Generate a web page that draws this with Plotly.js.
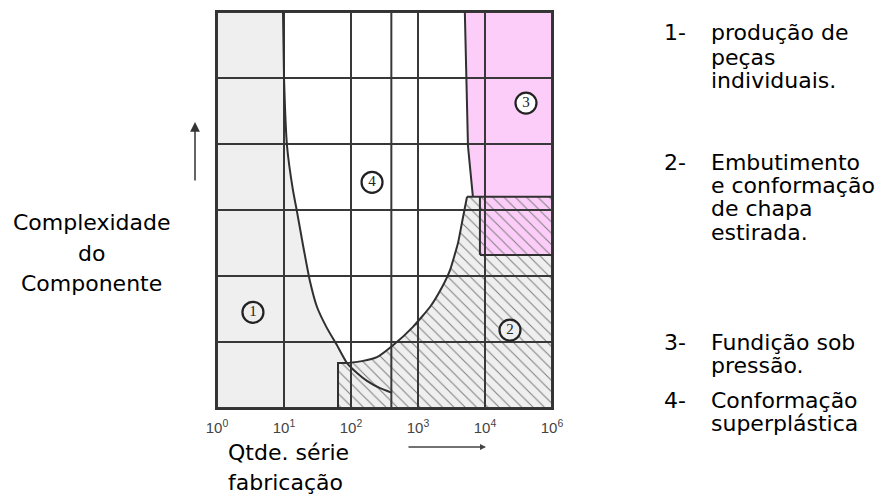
<!DOCTYPE html>
<html>
<head>
<meta charset="utf-8">
<script src="https://cdn.plot.ly/plotly-3.0.1.min.js"></script>
<style>html,body{margin:0;padding:0;background:#fff;}#chart{width:888px;height:497px;}</style>
</head>
<body>
<div id="chart"></div>
<script>
// ---- data (x = production quantity, log scale; y = component complexity) ----
const xTickVals = [1, 10, 100, 1000, 10000, 100000];
const xTickText = ['10<sup>0</sup>', '10<sup>1</sup>', '10<sup>2</sup>', '10<sup>3</sup>', '10<sup>4</sup>', '10<sup>6</sup>'];
const gridX = [1, 10, 100, 400, 1000, 10000, 100000];
const gridY = [0, 1, 2, 3, 4, 5, 6];

// left boundary curve (region 1 / region 4)
const leftCurveX = [9.66, 10, 11.1, 13.6, 15.6, 19.2, 24.4, 31.1, 43.8, 61.8, 87.1, 123, 173, 271, 409];
const leftCurveY = [6, 5.02, 3.97, 3.3, 2.98, 2.47, 1.92, 1.53, 1.21, 0.95, 0.68, 0.53, 0.41, 0.3, 0.23];
const meetIdx = 10;

// right boundary, upper part (region 4 / region 3)
const rightUpperX = [5000, 5250, 5570, 6600];
const rightUpperY = [6, 5.02, 3.97, 3.2];
// right boundary, lower part (region 4 / region 2)
const rightLowerX = [87.1, 146, 244, 424, 842, 1510, 2280, 3006, 3954, 4699, 5390];
const rightLowerY = [0.68, 0.71, 0.77, 0.95, 1.23, 1.53, 1.83, 2.09, 2.5, 2.89, 3.2];

// region 2 start and region-3 box
const hatchLeftX = 64, hatchTopY = 0.68;
const boxX = [8400, 100000];
const boxY = [2.32, 3.2];
const xMin = 1, xMax = 100000, yMin = 0, yMax = 6;

// region labels
const circX = [3.44, 23600, 40900, 206];
const circY = [1.45, 1.18, 4.62, 3.42];
const circText = ['1', '2', '3', '4'];
const circFill = ['#eeeeee', '#eeeeee', '#ffffff', '#ffffff'];

// text
const yTitle = ['Complexidade', 'do', 'Componente'];
const xTitle = ['Qtde. série', 'fabricação'];
const legendNums = ['1-', '2-', '3-', '4-'];
const legendLines = [
  ['produção de', 'peças', 'individuais.'],
  ['Embutimento', 'e conformação', 'de chapa', 'estirada.'],
  ['Fundição sob', 'pressão.'],
  ['Conformação', 'superplástica']
];

// ---- traces ----
const LINE = '#303030';
const traces = [];

// region 1 (gray)
traces.push({
  x: [xMin, xMin].concat(leftCurveX.slice(0, meetIdx + 1), [hatchLeftX, hatchLeftX]),
  y: [yMin, yMax].concat(leftCurveY.slice(0, meetIdx + 1), [hatchTopY, yMin]),
  mode: 'lines', fill: 'toself', fillcolor: '#efefef', line: {width: 0}, hoverinfo: 'skip'
});
// region 2 (hatched)
traces.push({
  x: [hatchLeftX, hatchLeftX].concat(rightLowerX, [xMax, xMax]),
  y: [yMin, hatchTopY].concat(rightLowerY, [rightLowerY[rightLowerY.length - 1], yMin]),
  mode: 'lines', fill: 'toself', line: {width: 0}, hoverinfo: 'skip',
  fillpattern: {shape: '\\', bgcolor: '#efefef', fgcolor: '#808080', size: 8, solidity: 0.13}
});
// region 3 (pink)
traces.push({
  x: rightUpperX.concat([xMax, xMax]),
  y: rightUpperY.concat([rightUpperY[rightUpperY.length - 1], yMax]),
  mode: 'lines', fill: 'toself', fillcolor: '#fccdf8', line: {width: 0}, hoverinfo: 'skip'
});
// region 3 box (pink + hatch)
traces.push({
  x: [boxX[0], boxX[1], boxX[1], boxX[0]],
  y: [boxY[0], boxY[0], boxY[1], boxY[1]],
  mode: 'lines', fill: 'toself', line: {width: 0}, hoverinfo: 'skip',
  fillpattern: {shape: '\\', bgcolor: '#fccdf8', fgcolor: '#808080', size: 8, solidity: 0.13}
});

// grid
const gx = [], gy = [];
gridX.forEach(v => { gx.push(v, v, null); gy.push(yMin, yMax, null); });
gridY.forEach(v => { gx.push(xMin, xMax, null); gy.push(v, v, null); });
traces.push({x: gx, y: gy, mode: 'lines', line: {color: '#383838', width: 2}, hoverinfo: 'skip', connectgaps: false});

// curves and outlines
traces.push({x: leftCurveX, y: leftCurveY, mode: 'lines', line: {color: LINE, width: 2, shape: 'spline', smoothing: 0.4}, hoverinfo: 'skip'});
traces.push({x: rightUpperX, y: rightUpperY, mode: 'lines', line: {color: LINE, width: 2}, hoverinfo: 'skip'});
traces.push({x: rightLowerX, y: rightLowerY, mode: 'lines', line: {color: LINE, width: 2, shape: 'spline', smoothing: 0.4}, hoverinfo: 'skip'});
traces.push({
  x: [hatchLeftX, hatchLeftX, rightLowerX[0], null, rightLowerX[rightLowerX.length - 1], xMax, null, boxX[0], boxX[1], null, boxX[0], boxX[0]],
  y: [yMin, hatchTopY, hatchTopY, null, boxY[1], boxY[1], null, boxY[0], boxY[0], null, boxY[0], boxY[1]],
  mode: 'lines', line: {color: LINE, width: 2}, hoverinfo: 'skip', connectgaps: false
});

// circled region numbers
traces.push({
  x: circX, y: circY, text: circText, mode: 'markers+text', textposition: 'middle center',
  marker: {symbol: 'circle', size: 21, color: circFill, line: {color: '#222', width: 2.2}},
  textfont: {family: 'Liberation Serif, serif', size: 15, color: '#222'}, hoverinfo: 'skip'
});

// ---- layout ----
const L = 217, R = 552, T = 12, B = 408;
const px = v => (v - L) / (R - L);
const py = v => (B - v) / (B - T);
const FONT = 'DejaVu Sans, Arial, sans-serif';
const annotations = [];
function txt(text, x, y, anchor, size) {
  annotations.push({text: text, xref: 'paper', yref: 'paper', x: px(x), y: py(y), xanchor: anchor, yanchor: 'middle',
    showarrow: false, font: {family: FONT, size: size || 22, color: '#000'}});
}
const yTitleRows = [222, 253, 283];
yTitle.forEach((t, i) => txt(t, 92, yTitleRows[i], 'center'));
const xTitleRows = [452, 482];
xTitle.forEach((t, i) => txt(t, 226, xTitleRows[i], 'left'));
const legendRows = [[33, 57, 80], [162, 185, 208, 232], [342, 365], [400, 423]];
legendNums.forEach((n, i) => {
  txt(n, 662, legendRows[i][0], 'left');
  legendLines[i].forEach((t, j) => txt(t, 709, legendRows[i][j], 'left'));
});
// arrows
annotations.push({text: '', xref: 'paper', yref: 'paper', x: px(195), y: py(122), axref: 'pixel', ayref: 'pixel', ax: 0, ay: 60,
  showarrow: true, arrowhead: 2, arrowsize: 1.3, arrowwidth: 1.5, arrowcolor: '#333'});
annotations.push({text: '', xref: 'paper', yref: 'paper', x: px(486), y: py(447), axref: 'pixel', ayref: 'pixel', ax: -79, ay: 0,
  showarrow: true, arrowhead: 2, arrowsize: 0.8, arrowwidth: 1.5, arrowcolor: '#444'});

const layout = {
  width: 888, height: 497,
  margin: {l: L, r: 888 - R, t: T, b: 497 - B, pad: 0},
  paper_bgcolor: '#ffffff', plot_bgcolor: '#ffffff',
  showlegend: false,
  xaxis: {type: 'log', range: [0, 5], showgrid: false, zeroline: false, tickvals: xTickVals, ticktext: xTickText,
    ticks: '', ticklabelstandoff: 5, tickfont: {family: 'Liberation Sans, Arial, sans-serif', size: 15, color: '#444'},
    showline: true, mirror: true, linecolor: '#333', linewidth: 2, fixedrange: true},
  yaxis: {range: [0, 6], showgrid: false, zeroline: false, showticklabels: false, ticks: '',
    showline: true, mirror: true, linecolor: '#333', linewidth: 2, fixedrange: true},
  annotations: annotations
};

Plotly.newPlot('chart', traces, layout, {staticPlot: true, displayModeBar: false});
</script>
</body>
</html>
